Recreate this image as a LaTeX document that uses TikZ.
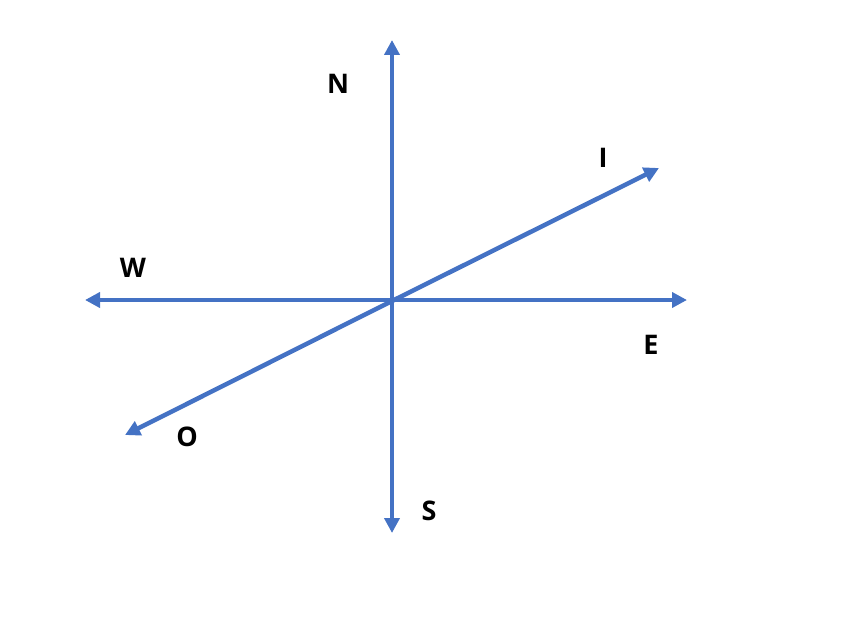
\documentclass[tikz,border=0pt]{standalone}
\usepackage{fontspec}
\setmainfont{Open Sans}
\usetikzlibrary{arrows.meta}
\definecolor{axisblue}{HTML}{4472C4}
\tikzset{
  axis/.style={draw=axisblue, line width=4.5pt, -{Triangle[width=15pt,length=15pt]}},
  lbl/.style={font=\fontsize{27}{30}\selectfont\bfseries, text=black, inner sep=0pt}
}
\begin{document}
\begin{tikzpicture}[x=1pt,y=-1pt]
\useasboundingbox (0,0) rectangle (846,626);
\coordinate (c) at (392,301);
\coordinate (n) at (392,40);
\coordinate (s) at (392,533);
\coordinate (w) at (85,300);
\coordinate (e) at (687,300);
\coordinate (o) at (125,435);
\coordinate (i) at (659,168);
\draw[axis] (c) -- (n);
\draw[axis] (c) -- (s);
\draw[axis] (c |- w) -- (w);
\draw[axis] (c |- e) -- (e);
\draw[axis] (c) -- (o);
\draw[axis] (c) -- (i);
\node[lbl] (ln) at (338,84) {N};
\node[lbl] (ls) at (429,511) {S};
\node[lbl] (lw) at (133,268) {W};
\node[lbl] (le) at (651,345) {E};
\node[lbl] (lo) at (187,437) {O};
\node[lbl] (li) at (603,158) {I};
\end{tikzpicture}
\end{document}
